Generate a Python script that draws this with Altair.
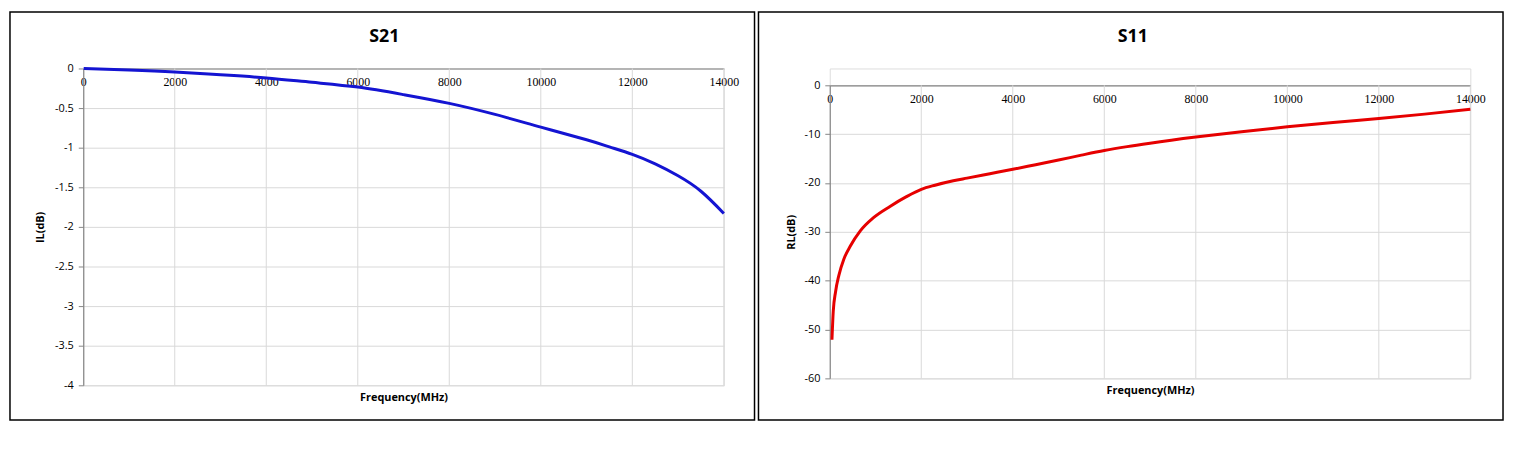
import altair as alt
import pandas as pd

# ---- data ----
s21_freq = [10, 1000, 2000, 3000, 4000, 5000, 6000, 7000, 8000, 9000, 10000,
            11000, 11500, 12000, 12500, 13000, 13500, 14000]
s21_db = [0.0, -0.02, -0.045, -0.08, -0.12, -0.175, -0.235, -0.33, -0.44, -0.58,
          -0.74, -0.90, -0.99, -1.085, -1.205, -1.355, -1.55, -1.83]

s11_freq = [48, 76, 126, 199, 307, 450, 667, 956, 1316, 1676, 2000, 2300, 2700,
            3000, 3500, 4000, 4500, 5000, 5500, 6000, 6500, 7000, 8000, 9000,
            10000, 11000, 12000, 13000, 14000]
s11_db = [-52.1, -46.3, -42.3, -38.9, -35.6, -32.9, -29.8, -27.1, -24.8, -22.8,
          -21.3, -20.45, -19.55, -19.0, -18.1, -17.2, -16.25, -15.3, -14.3,
          -13.35, -12.55, -11.85, -10.6, -9.5, -8.5, -7.6, -6.8, -5.9, -4.9]

x_ticks = [0, 2000, 4000, 6000, 8000, 10000, 12000, 14000]
s21_yticks = [0, -0.5, -1, -1.5, -2, -2.5, -3, -3.5, -4]
s11_yticks = [0, -10, -20, -30, -40, -50, -60]

titles = ["S21", "S11"]
y_titles = ["IL(dB)", "RL(dB)"]
x_title = "Frequency(MHz)"

GRID = "#d9d9d9"
AXIS = "#868686"
SANS = "Open Sans"
SERIF = "Liberation Serif"

one = pd.DataFrame({"k": [0]})


def panel(freq, db, yticks, ydom, color, interp, title, ytitle, w, h, shift,
          left, right, top, bottom, title_x, title_y, ytitle_x, xtitle_y):
    """shift: empty band (px) above the plot area inside the view group, so
    that both panels' outer frames line up in the concat row."""
    H = h + shift
    df = pd.DataFrame({"f": freq, "db": db})
    xscale = alt.Scale(domain=[0, 14000], nice=False)
    yscale = alt.Scale(domain=ydom, nice=False, range=[H, shift])
    xaxis = alt.Axis(
        orient="bottom", offset=-h, values=x_ticks, format="d",
        ticks=False, labelPadding=8, labelBaseline="top",
        labelFont=SERIF, labelFontSize=12, labelColor="#000",
        domainColor=AXIS, domainWidth=1.2,
        grid=False,
        title=x_title, titleFont=SANS, titleFontSize=11,
        titleFontWeight="bold", titleColor="#000",
        titleY=xtitle_y, titleBaseline="middle",
        labelFlush=False, labelOverlap=False,
    )
    yaxis = alt.Axis(
        values=yticks, labelExpr="toString(datum.value)",
        tickSize=5, tickColor=AXIS, labelPadding=5,
        labelFont=SANS, labelFontSize=11, labelColor="#000",
        domainColor=AXIS, domainWidth=1.2,
        grid=True, gridColor=GRID, gridWidth=1,
        title=ytitle, titleFont=SANS, titleFontSize=11,
        titleFontWeight="bold", titleColor="#000",
        titleX=ytitle_x, titleY=shift + h / 2, titleAngle=270,
        titleBaseline="middle", titleAlign="center",
        labelFlush=False,
    )
    # vertical grid lines at the x tick values, spanning the y domain
    gticks = [t for t in x_ticks if t > 0]
    gdf = pd.DataFrame({"f": gticks,
                        "db": [ydom[1]] * len(gticks),
                        "db2": [ydom[0]] * len(gticks)})
    vgrid = alt.Chart(gdf).mark_rule(color=GRID, strokeWidth=1).encode(
        x=alt.X("f:Q", scale=xscale, axis=xaxis),
        y=alt.Y("db:Q", scale=yscale, axis=yaxis),
        y2=alt.Y2("db2:Q"),
    )
    line = alt.Chart(df).mark_line(
        color=color, strokeWidth=3, interpolate=interp
    ).encode(
        x=alt.X("f:Q", scale=xscale, axis=xaxis),
        y=alt.Y("db:Q", scale=yscale, axis=yaxis),
    )

    border = alt.Chart(one).mark_rect(
        filled=False, stroke="#000", strokeWidth=1.5, clip=False
    ).encode(
        x=alt.value(-left), x2=alt.value(w + right),
        y=alt.value(shift - top), y2=alt.value(H + bottom),
    )
    ttl = alt.Chart(one).mark_text(
        font=SANS, fontSize=18, fontWeight="bold", color="#000",
        align="center", baseline="middle",
    ).encode(text=alt.value(title), x=alt.value(title_x),
             y=alt.value(shift + title_y))

    return alt.layer(border, vgrid, line, ttl).properties(width=w, height=H)


left_panel = panel(s21_freq, s21_db, s21_yticks, [-4, 0], "#1414d2", "natural",
                   titles[0], y_titles[0], 647, 320, 0,
                   74, 31, 57, 35, 304, -32, -43, 332)
right_panel = panel(s11_freq, s11_db, s11_yticks, [-60, 0], "#e60000", "monotone",
                    titles[1], y_titles[1], 647, 296, 17,
                    72, 33, 74, 42, 306, -49, -39, 308)

chart = alt.hconcat(left_panel, right_panel, spacing=0).properties(
    padding=0
).configure_view(
    stroke="transparent", strokeWidth=0
).configure(background="white")

chart.save("out.html", embed_options={"renderer": "svg", "actions": False})
